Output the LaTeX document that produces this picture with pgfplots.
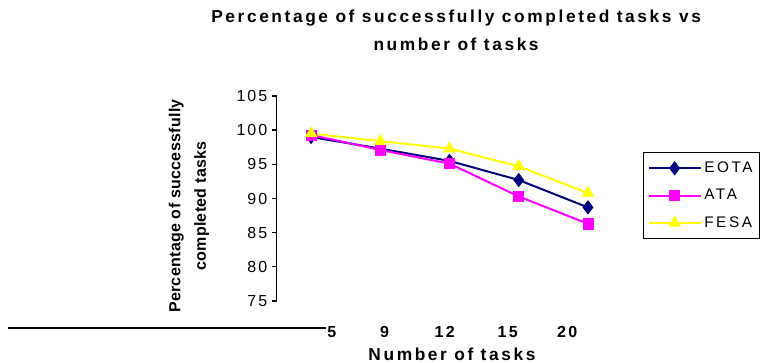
\documentclass[border=0pt]{standalone}
\usepackage{fontspec}
\setmainfont{Liberation Sans}
\usepackage{pgfplots}
\pgfplotsset{compat=1.18}
\definecolor{eota}{HTML}{000080}
\definecolor{ata}{HTML}{FF00FF}
\definecolor{fesa}{HTML}{FFFF00}
\begin{document}
\begin{tikzpicture}
\path[use as bounding box] (0,0) rectangle (573.75pt,272.25pt);
\begin{axis}[
  at={(207.4pt,46.5pt)}, anchor=south west,
  scale only axis, width=259.5pt, height=153.75pt,
  xmin=-0.5, xmax=4.5, ymin=75, ymax=105,
  ytick={75,80,...,105},
  axis y line*=left, axis x line*=bottom,
  x axis line style={draw=none},
  xtick={0.30,1.06,1.93,2.84,3.70},
  xticklabels={5,9,12,15,20},
  xtick style={draw=none},
  xticklabel style={font=\bfseries\fontsize{12}{14}\selectfont\addfontfeature{LetterSpace=15}, yshift=-12pt},
  yticklabel style={font=\fontsize{12}{14}\selectfont\addfontfeature{LetterSpace=12}},
  ytick style={black, line width=1pt},
  tick align=outside, major tick length=3.5pt,
  y axis line style={line width=1.1pt, -},
  /pgf/number format/assume math mode=true,
  clip=false,
  title={Percentage of successfully completed tasks vs\\number of tasks},
  title style={at={(0.519,1.28)}, anchor=center, align=center,
    font=\bfseries\fontsize{13}{21}\selectfont\addfontfeature{LetterSpace=15}},
  xlabel={Number of tasks},
  xlabel style={at={(0.507,-0.258)}, anchor=center,
    font=\bfseries\fontsize{13}{15}\selectfont\addfontfeature{LetterSpace=15}},
  ylabel={Percentage of successfully\\completed tasks},
  ylabel style={at={(-0.253,0.463)}, anchor=center, rotate=0, align=center,
    font=\bfseries\fontsize{12}{19}\selectfont\addfontfeature{LetterSpace=2}},
  legend style={at={(1.059,0.727)}, anchor=north west, draw=black, line width=1pt,
    font=\fontsize{11.5}{13}\selectfont\addfontfeature{LetterSpace=17}, row sep=7pt,
    inner xsep=3pt, inner ysep=5pt},
  legend cell align=left,
  legend image code/.code={\draw[#1, mark repeat=2, mark phase=2] plot coordinates {(0pt,0pt) (19.5pt,0pt) (39pt,0pt)};},
]
\addplot[color=eota, line width=1.5pt, mark=diamond*, mark size=5pt, mark options={solid, fill=eota, line width=0.5pt}]
  coordinates {(0,99.0) (1,97.3) (2,95.5) (3,92.7) (4,88.7)};
\addlegendentry{EOTA}
\addplot[color=ata, line width=1.5pt, mark=square*, mark size=3.8pt, mark options={solid, fill=ata, line width=0.5pt}]
  coordinates {(0,99.3) (1,97.1) (2,95.1) (3,90.3) (4,86.3)};
\addlegendentry{ATA}
\addplot[color=fesa, line width=1.5pt, mark=triangle*, mark size=5pt, mark options={solid, fill=fesa, line width=0.5pt}]
  coordinates {(0,99.5) (1,98.4) (2,97.3) (3,94.7) (4,90.8)};
\addlegendentry{FESA}
\end{axis}
\draw[line width=1.1pt] (6pt,26.25pt) -- (244.5pt,26.25pt);
\end{tikzpicture}
\end{document}
